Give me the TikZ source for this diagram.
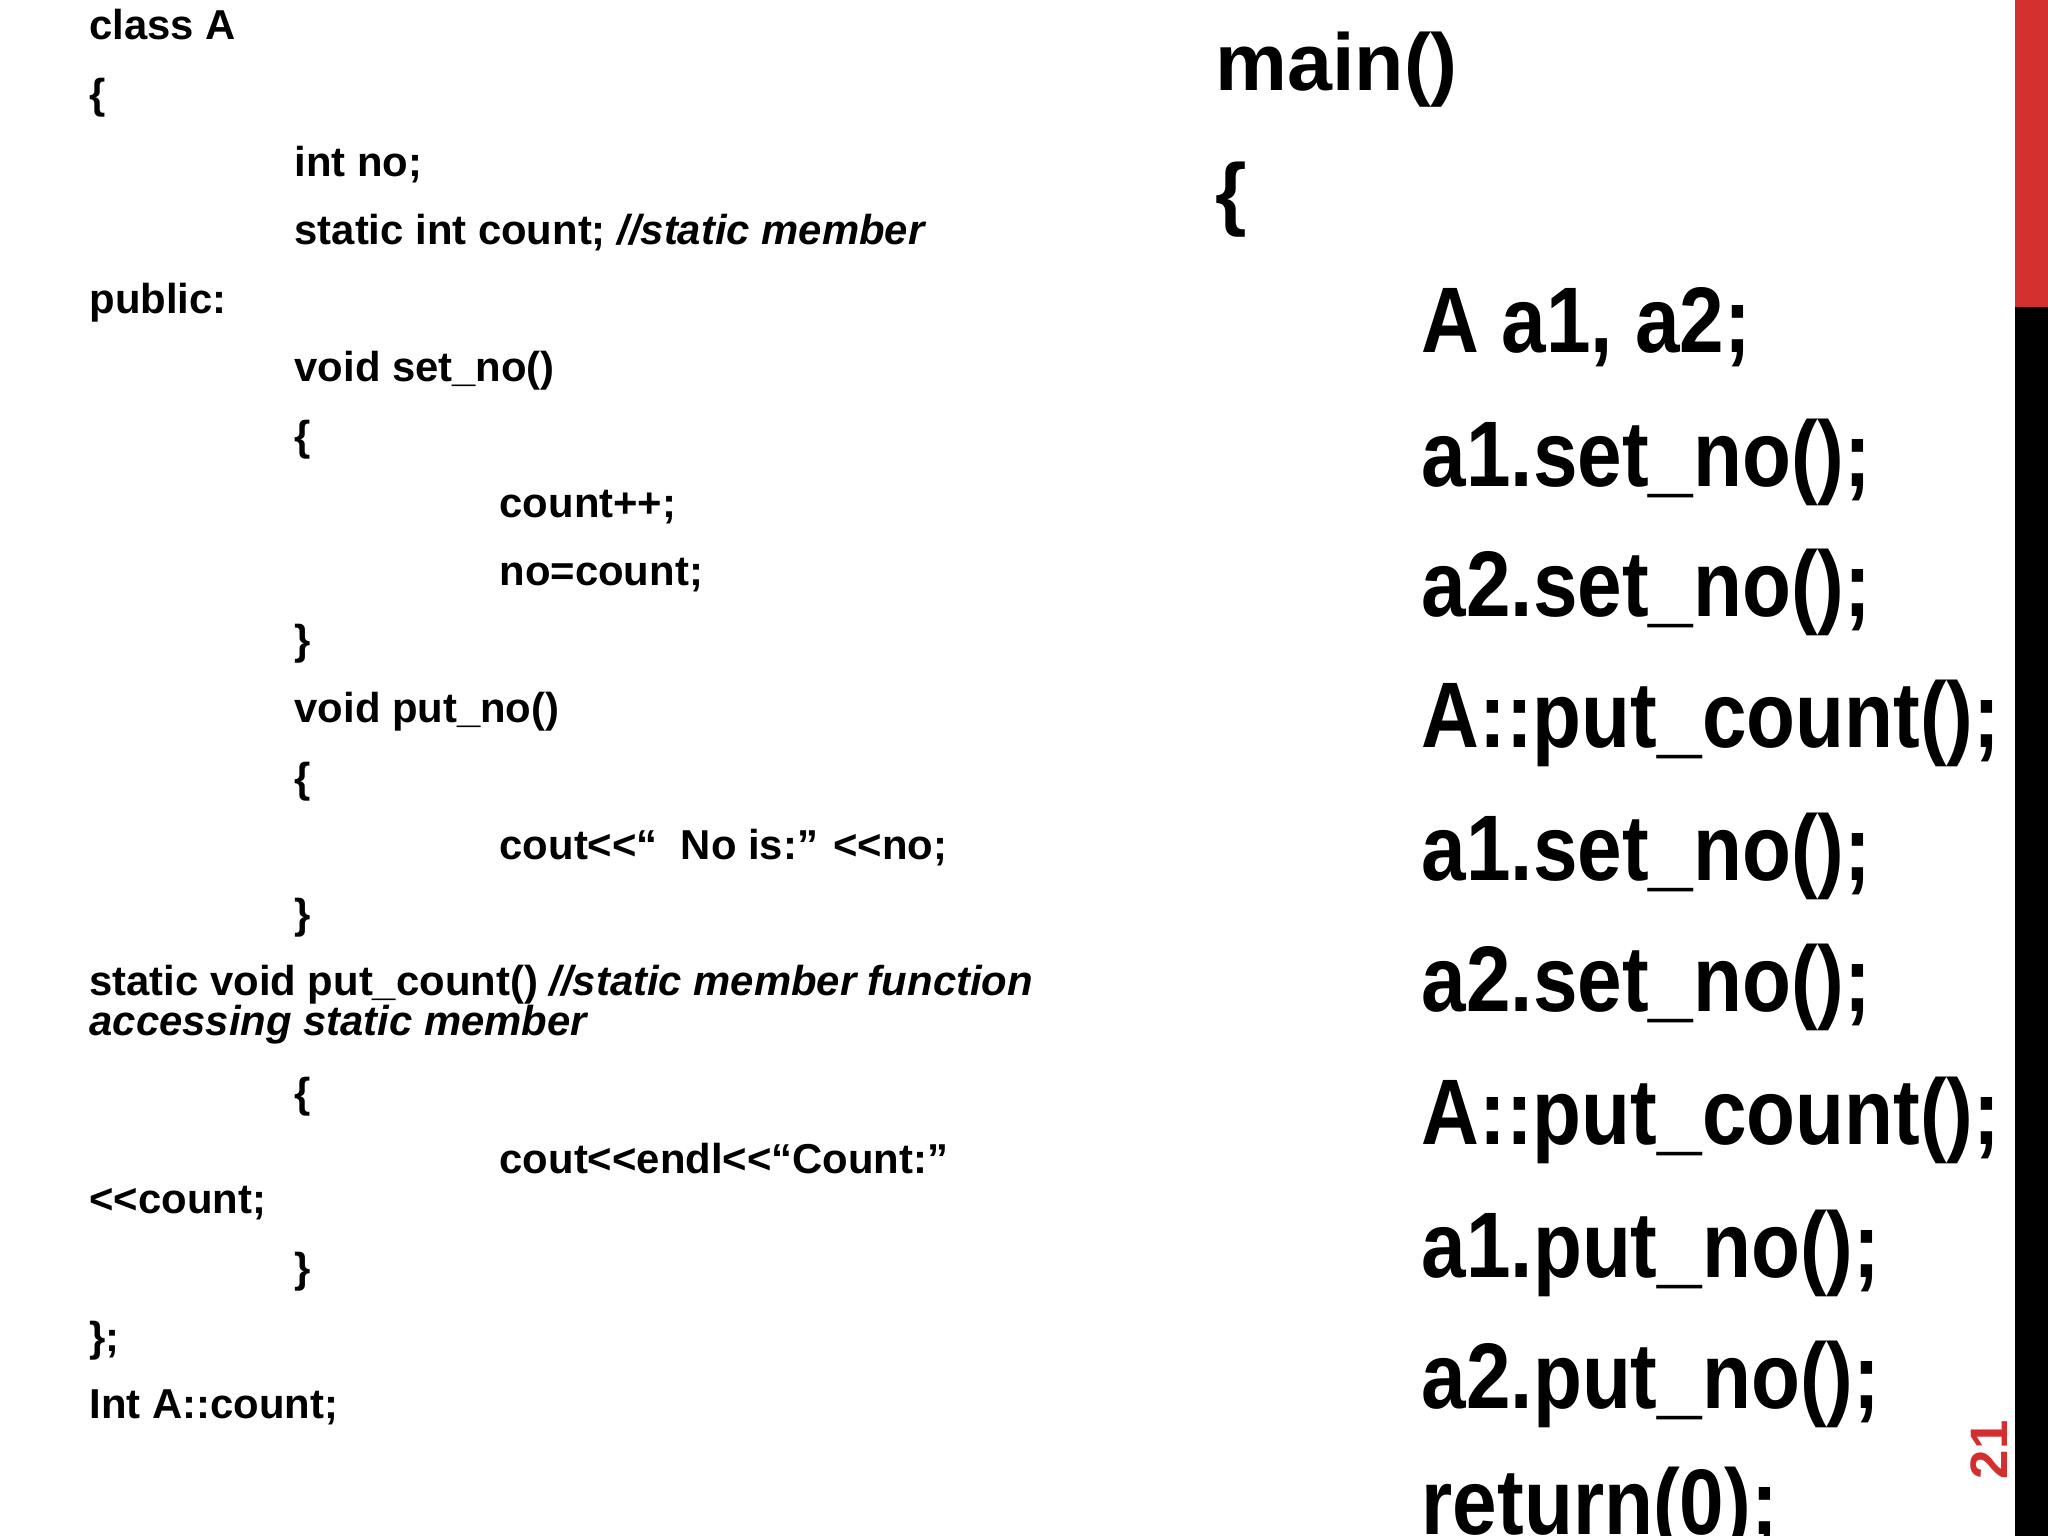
\documentclass[tikz,border=0pt]{standalone}
\usepackage{fontspec}
\setmainfont{Liberation Sans}
\newfontfamily\narrowsans[FakeStretch=0.86]{Liberation Sans}
\definecolor{barred}{HTML}{D32F2F}
\begin{document}
\begin{tikzpicture}[x=0.01306cm,y=-0.01306cm,
  lt/.style={anchor=mid west,inner sep=0,font=\fontsize{11.9}{13}\selectfont\bfseries},
  rt/.style={anchor=mid west,inner sep=0,font=\narrowsans\fontsize{26.5}{30}\selectfont\bfseries},
  mt/.style={anchor=mid west,inner sep=0,font=\fontsize{23}{26}\selectfont\bfseries}]
\useasboundingbox (0,0) rectangle (1568,1176);
\fill[barred] (1543,0) rectangle (1568,235);
\fill[black] (1543,235) rectangle (1568,1176);
\node[rotate=90,text=barred,font=\fontsize{15}{18}\selectfont\bfseries,inner sep=0] (pg) at (1523,1110) {21};
% left code
\node[lt] (l1) at (68,23) {class A};
\node[lt] (l2) at (68,76) {\{};
\node[lt] (l3) at (225,128) {int no;};
\node[lt] (l4) at (225,180) {static int count; \itshape//static member};
\node[lt] (l5) at (68,233) {public:};
\node[lt] (l6) at (225,285) {void set\_no()};
\node[lt] (l7) at (225,338) {\{};
\node[lt] (l8) at (382,389) {count++;};
\node[lt] (l9) at (382,441) {no=count;};
\node[lt] (l10) at (225,494) {\}};
\node[lt] (l11) at (225,546) {void put\_no()};
\node[lt] (l12) at (225,600) {\{};
\node[lt] (l13) at (382,651) {cout{<}{<}“\ \ No is:” {<}{<}no;};
\node[lt] (l14) at (225,704) {\}};
\node[lt] (l15) at (68,755) {static void put\_count() \itshape//static member function};
\node[lt] (l16) at (68,786) {\itshape accessing static member};
\node[lt] (l17) at (225,841) {\{};
\node[lt] (l18) at (382,891) {cout{<}{<}endl{<}{<}“Count:”};
\node[lt] (l19) at (68,922) {{<}{<}count;};
\node[lt] (l20) at (225,975) {\}};
\node[lt] (l21) at (68,1028) {\};};
\node[lt] (l22) at (68,1079) {Int A::count;};
% right code
\node[mt] (m1) at (930,62) {main()};
\node[mt] (m2) at (930,162) {\{};
\node[rt] (r1) at (1088,263) {A a1, a2;};
\node[rt] (r2) at (1088,365) {a1.set\_no();};
\node[rt] (r3) at (1088,465) {a2.set\_no();};
\node[rt] (r4) at (1088,565) {A::put\_count();};
\node[rt] (r5) at (1088,667) {a1.set\_no();};
\node[rt] (r6) at (1088,767) {a2.set\_no();};
\node[rt] (r7) at (1088,869) {A::put\_count();};
\node[rt] (r8) at (1088,971) {a1.put\_no();};
\node[rt] (r9) at (1088,1071) {a2.put\_no();};
\node[rt] (r10) at (1088,1168) {return(0);};
\end{tikzpicture}
\end{document}
